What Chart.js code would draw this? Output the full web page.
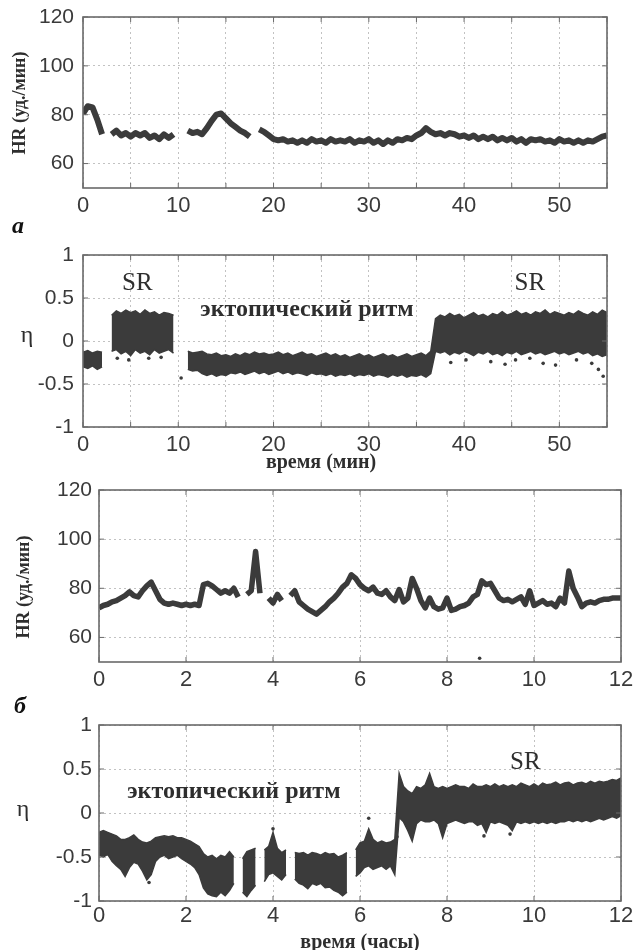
<!DOCTYPE html>
<html>
<head>
<meta charset="utf-8">
<script src="https://cdn.jsdelivr.net/npm/chart.js@4.4.1/dist/chart.umd.min.js"></script>
<style>
    html, body { margin: 0; padding: 0; background: #fff; }
    #wrap { position: relative; width: 633px; height: 950px; }
    canvas { position: absolute; left: 0; }
</style>
</head>
<body>
<div id="wrap">
    <canvas id="hrMin" width="633" height="236" style="top:0"></canvas>
    <canvas id="etaMin" width="633" height="239" style="top:236px"></canvas>
    <canvas id="hrHour" width="633" height="220" style="top:475px"></canvas>
    <canvas id="etaHour" width="633" height="255" style="top:695px"></canvas>
</div>
<script>
// --- данные (шаг по времени: 0.5 мин и 0.1 ч) ---
const STEP_MIN = 0.5;
const STEP_HOUR = 0.1;

// а) ЧСС, минуты 0..55
const hrMinutes = [
    80.5, 83.5, 83, 78, 72, null, 72, 73.5, 71.5, 72.5,
    71, 72.5, 71.5, 72.5, 70.5, 71.5, 70, 72, 70.5, 72,
    null, null, 73.5, 72.5, 73, 72, 74.5, 77.5, 80, 80.5,
    78.5, 76.5, 75, 73.5, 72.5, 71, null, 74, 73, 71.5,
    70, 69.5, 70, 69, 69.5, 68.5, 69.5, 68.5, 70, 69,
    69.5, 68.5, 70, 69, 69.5, 69, 70, 68.5, 69.5, 69,
    70, 68.5, 69.5, 68, 69.5, 68.5, 70, 69.5, 70.5, 70,
    71.5, 72.5, 74.5, 73, 72, 72.5, 71.5, 72.5, 72, 71,
    71.5, 70.5, 71.5, 70, 71, 70, 71, 69.5, 70.5, 69.5,
    70.5, 69, 70, 68.5, 70, 69.5, 70, 69, 69.5, 68.5,
    70, 69, 69.5, 68.5, 69.5, 68.5, 69.5, 69, 70, 71,
    71.5
];

// а) η, минуты 0..55 — верхняя и нижняя граница облака точек
const etaMinUpper = [
    -0.13, -0.11, -0.14, -0.12, -0.13, null, 0.3, 0.35, 0.32, 0.36,
    0.33, 0.35, 0.31, 0.36, 0.32, 0.34, 0.3, 0.33, 0.32, 0.3,
    null, null, -0.12, -0.14, -0.13, -0.12, -0.15, -0.16, -0.14, -0.17,
    -0.16, -0.18, -0.15, -0.17, -0.14, -0.16, -0.13, -0.15, -0.14, -0.16,
    -0.15, -0.13, -0.16, -0.14, -0.17, -0.15, -0.13, -0.16, -0.15, -0.18,
    -0.16, -0.14, -0.17, -0.15, -0.18, -0.16, -0.19, -0.17, -0.15, -0.18,
    -0.16, -0.19, -0.17, -0.15, -0.18, -0.16, -0.19, -0.17, -0.15, -0.18,
    -0.16, -0.14, -0.17, -0.12, 0.26, 0.3, 0.28, 0.32, 0.29, 0.31,
    0.27, 0.3, 0.33, 0.29, 0.31, 0.28, 0.32, 0.3, 0.34, 0.3,
    0.32, 0.35, 0.31, 0.33, 0.3, 0.34, 0.32, 0.36, 0.31, 0.34,
    0.32, 0.3, 0.33, 0.31, 0.35, 0.32, 0.3, 0.34, 0.31, 0.36,
    0.33
];
const etaMinLower = [
    -0.3, -0.32, -0.29, -0.33, -0.3, null, -0.12, -0.1, -0.15, -0.12,
    -0.17, -0.1, -0.14, -0.12, -0.16, -0.1, -0.14, -0.12, -0.1, -0.14,
    null, null, -0.33, -0.35, -0.34, -0.38, -0.4, -0.38, -0.41, -0.39,
    -0.4, -0.37, -0.38, -0.36, -0.39, -0.37, -0.35, -0.38, -0.36, -0.39,
    -0.37, -0.35, -0.38, -0.36, -0.39, -0.37, -0.38, -0.4, -0.37, -0.39,
    -0.38, -0.4, -0.38, -0.41, -0.39, -0.4, -0.38, -0.41, -0.39, -0.4,
    -0.38, -0.41, -0.39, -0.4, -0.42, -0.39, -0.41, -0.39, -0.42, -0.4,
    -0.41, -0.39, -0.42, -0.38, -0.12, -0.14, -0.12, -0.16, -0.13, -0.15,
    -0.12, -0.14, -0.17, -0.13, -0.15, -0.12, -0.16, -0.14, -0.17, -0.13,
    -0.15, -0.12, -0.16, -0.14, -0.12, -0.15, -0.13, -0.16, -0.14, -0.12,
    -0.15, -0.13, -0.16, -0.14, -0.12, -0.15, -0.13, -0.17, -0.15, -0.18,
    -0.16
];
const etaMinOutliers = [
    [10.3, -0.43], [3.6, -0.2], [4.8, -0.22], [6.9, -0.2], [8.2, -0.19],
    [38.6, -0.25], [40.2, -0.22], [42.8, -0.24], [44.3, -0.27], [45.4, -0.22],
    [46.9, -0.2], [48.3, -0.26], [49.6, -0.28], [51.8, -0.22], [53.4, -0.26],
    [54.1, -0.33], [54.6, -0.41]
];

// б) ЧСС, часы 0..12
const hrHours = [
    72, 73, 73.5, 74.5, 75, 76, 77, 78.5, 77, 76.5,
    79, 81, 82.5, 79, 75.5, 74, 73.5, 74, 73.5, 73,
    73.5, 73, 73.5, 73, 81.5, 82, 81, 79.5, 78, 79,
    78, 80, 76.5, null, 77.5, 79, 95, 78, null, 76,
    74, 77.5, 75, null, 77, 79, 74.5, 73, 71.5, 70.5,
    69.5, 71, 72.5, 74.5, 76, 78, 80.5, 82, 85.5, 84,
    81.5, 80, 79, 80.5, 78, 77.5, 79, 76.5, 75, 79.5,
    74.5, 76, 84, 80, 75, 72, 76, 72.5, 71.5, 72,
    76, 71, 71.5, 72.5, 73, 74, 76.5, 77.5, 83, 81.5,
    82, 79, 76, 75, 75.5, 74.5, 75.5, 76.5, 73.5, 79,
    73, 74, 75, 73.5, 74, 72.5, 76, 74, 87, 80,
    76.5, 72.5, 74, 74.5, 74, 75, 75.5, 75.5, 76, 76,
    76
];
const hrHoursOutliers = [[8.75, 51.5]];

// б) η, часы 0..12
const etaHourUpper = [
    -0.22, -0.2, -0.22, -0.24, -0.26, -0.3, -0.3, -0.28, -0.25, -0.3,
    -0.33, -0.34, -0.32, -0.28, -0.27, -0.26, -0.27, -0.26, -0.28, -0.28,
    -0.3, -0.32, -0.35, -0.38, -0.46, -0.5, -0.48, -0.52, -0.48, -0.5,
    -0.44, -0.5, null, -0.52, -0.44, -0.42, -0.4, null, -0.42, -0.38,
    -0.22, -0.4, -0.45, -0.42, null, -0.45, -0.46, -0.45, -0.48, -0.45,
    -0.46, -0.48, -0.45, -0.47, -0.46, -0.5, -0.48, -0.45, null, -0.42,
    -0.34, -0.32, -0.18, -0.3, -0.34, -0.32, -0.34, -0.33, -0.3, 0.45,
    0.3, 0.25, 0.22, 0.3, 0.28, 0.32, 0.45, 0.3, 0.28, 0.3,
    0.28, 0.3, 0.32, 0.3, 0.3, 0.28, 0.33, 0.3, 0.3, 0.32,
    0.3, 0.33, 0.3, 0.32, 0.3, 0.32, 0.3, 0.34, 0.32, 0.3,
    0.33, 0.3, 0.34, 0.32, 0.33, 0.35, 0.32, 0.34, 0.35, 0.32,
    0.34, 0.35, 0.33, 0.36, 0.34, 0.36, 0.35, 0.36, 0.38, 0.37,
    0.4
];
const etaHourLower = [
    -0.48, -0.5, -0.47, -0.55, -0.6, -0.64, -0.72, -0.62, -0.56, -0.58,
    -0.66, -0.76, -0.7, -0.55, -0.5, -0.48, -0.52, -0.5, -0.48, -0.52,
    -0.55, -0.58, -0.62, -0.7, -0.85, -0.92, -0.94, -0.95, -0.9, -0.94,
    -0.88, -0.8, null, -0.9, -0.95, -0.88, -0.82, null, -0.78, -0.7,
    -0.68, -0.72, -0.76, -0.7, null, -0.75, -0.8, -0.82, -0.86, -0.8,
    -0.82, -0.8, -0.85, -0.84, -0.88, -0.9, -0.94, -0.9, null, -0.72,
    -0.68, -0.62, -0.6, -0.64, -0.62, -0.6, -0.64, -0.6, -0.7, -0.05,
    -0.1, -0.2, -0.32, -0.12, -0.08, -0.1, -0.1, -0.08, -0.12, -0.28,
    -0.12, -0.1, -0.08, -0.1, -0.12, -0.1, -0.1, -0.14, -0.12, -0.22,
    -0.1, -0.12, -0.1, -0.12, -0.14, -0.2, -0.1, -0.12, -0.1, -0.12,
    -0.1, -0.12, -0.1, -0.12, -0.1, -0.12, -0.1, -0.1, -0.08, -0.1,
    -0.08, -0.1, -0.08, -0.1, -0.08, -0.06, -0.08, -0.06, -0.04, -0.06,
    -0.03
];
const etaHourOutliers = [
    [1.15, -0.79], [4.0, -0.18], [6.2, -0.06], [6.85, -0.27], [9.45, -0.24], [8.85, -0.26]
];

// оси
const xTicksMin = [0, 5, 10, 15, 20, 25, 30, 35, 40, 45, 50, 55];
const xLabelsMin = [0, 10, 20, 30, 40, 50];
const xTicksHour = [0, 2, 4, 6, 8, 10, 12];
const yTicksHR = [60, 80, 100, 120];
const yTicksEta = [-1, -0.5, 0, 0.5, 1];

const INK = '#3b3b3b';
const SANS = "'Liberation Sans', Arial, sans-serif";
const SERIF = "'Liberation Serif', 'Times New Roman', serif";

function toPoints(values, step) {
    return values.map((v, i) => ({ x: Math.round(i * step * 100) / 100, y: v }));
}
function pairs(list) {
    return list.map(p => ({ x: p[0], y: p[1] }));
}

function traceSet(values, step, width) {
    return { data: toPoints(values, step), borderColor: INK, borderWidth: width, pointRadius: 0,
             tension: 0, spanGaps: false, fill: false, borderJoinStyle: 'round' };
}
function bandSets(upper, lower, step) {
    return [
        { data: toPoints(upper, step), borderColor: INK, borderWidth: 1.5, pointRadius: 0, spanGaps: false, fill: false },
        { data: toPoints(lower, step), borderColor: INK, borderWidth: 1.5, pointRadius: 0, spanGaps: false,
          fill: '-1', backgroundColor: INK }
    ];
}
function dotSet(list) {
    return { data: pairs(list), showLine: false, pointRadius: 1.8, pointBackgroundColor: INK, pointBorderWidth: 0 };
}

// рамка, внутренние штрихи и подписи
const framePlugin = {
    id: 'frame',
    afterDatasetsDraw(chart) {
        const { ctx, chartArea: a, scales } = chart;
        ctx.save();
        ctx.strokeStyle = '#6a6a6a';
        ctx.lineWidth = 1;
        const seg = (x1, y1, x2, y2) => { ctx.beginPath(); ctx.moveTo(x1, y1); ctx.lineTo(x2, y2); ctx.stroke(); };
        scales.x.ticks.forEach(t => {
            const px = scales.x.getPixelForValue(t.value);
            seg(px, a.bottom, px, a.bottom - 5);
            seg(px, a.top, px, a.top + 5);
        });
        scales.y.ticks.forEach(t => {
            const py = scales.y.getPixelForValue(t.value);
            seg(a.left, py, a.left + 5, py);
            seg(a.right, py, a.right - 5, py);
        });
        ctx.lineWidth = 1.6;
        ctx.strokeRect(a.left, a.top, a.right - a.left, a.bottom - a.top);
        ctx.restore();
    },
    afterDraw(chart, args, opts) {
        const ctx = chart.ctx;
        (opts.texts || []).forEach(t => {
            let x = t.x, y = t.y;
            if (t.data) {
                x = chart.scales.x.getPixelForValue(t.x);
                y = chart.scales.y.getPixelForValue(t.y);
            }
            ctx.save();
            ctx.translate(x, y);
            if (t.rot) ctx.rotate(t.rot);
            ctx.font = t.font;
            ctx.fillStyle = t.color || '#2e2e2e';
            ctx.textAlign = t.align || 'center';
            ctx.textBaseline = t.base || 'middle';
            ctx.fillText(t.text, 0, 0);
            ctx.restore();
        });
    }
};

function makePanel(id, box, datasets, xTicks, xLabels, xMax, yTicks, yMin, yMax, texts) {
    const canvas = document.getElementById(id);
    return new Chart(canvas, {
        type: 'line',
        plugins: [framePlugin],
        data: { datasets: datasets },
        options: {
            responsive: false,
            animation: false,
            layout: { padding: { left: 0, right: 633 - box.right, top: box.top, bottom: 0 } },
            plugins: {
                legend: { display: false },
                tooltip: { enabled: false },
                frame: { texts: texts }
            },
            scales: {
                x: {
                    type: 'linear', min: 0, max: xMax,
                    afterBuildTicks: s => { s.ticks = xTicks.map(v => ({ value: v })); },
                    afterFit: s => { s.height = box.xh; s.paddingLeft = 0; s.paddingRight = 0; },
                    ticks: {
                        autoSkip: false, maxRotation: 0, padding: box.xPad, color: '#3a3a3a',
                        font: { family: SANS, size: 22 },
                        callback: v => xLabels.includes(v) ? String(v) : ''
                    },
                    grid: { color: '#c2c2c2', lineWidth: 1, drawTicks: false },
                    border: { display: false, dash: [2, 3] }
                },
                y: {
                    min: yMin, max: yMax,
                    afterBuildTicks: s => { s.ticks = yTicks.map(v => ({ value: v })); },
                    afterFit: s => { s.width = box.left; s.paddingTop = 0; s.paddingBottom = 0; },
                    ticks: {
                        padding: box.yPad, color: '#3a3a3a',
                        font: { family: SANS, size: 21 },
                        callback: v => String(v)
                    },
                    grid: { color: '#c2c2c2', lineWidth: 1, drawTicks: false },
                    border: { display: false, dash: [2, 3] }
                }
            }
        }
    });
}

const rot = -Math.PI / 2;

makePanel('hrMin', { left: 83, right: 607, top: 17, xh: 48, xPad: 5, yPad: 9 },
    [traceSet(hrMinutes, STEP_MIN, 6)],
    xTicksMin, xLabelsMin, 55, yTicksHR, 50, 120,
    [
        { text: 'HR (уд./мин)', x: 20, y: 103, rot: rot, font: 'bold 18px ' + SERIF },
        { text: 'а', x: 12, y: 233, align: 'left', base: 'alphabetic', font: 'bold italic 24px ' + SERIF, color: '#111' }
    ]);

makePanel('etaMin', { left: 83, right: 607, top: 19, xh: 48, xPad: 5, yPad: 9 },
    [...bandSets(etaMinUpper, etaMinLower, STEP_MIN), dotSet(etaMinOutliers)],
    xTicksMin, xLabelsMin, 55, yTicksEta, -1, 1,
    [
        { text: 'η', x: 27, y: 100, font: '24px ' + SERIF },
        { text: 'SR', data: true, x: 5.7, y: 0.67, font: '25px ' + SERIF },
        { text: 'SR', data: true, x: 46.9, y: 0.67, font: '25px ' + SERIF },
        { text: 'эктопический ритм', data: true, x: 23.5, y: 0.36, font: 'bold 24px ' + SERIF },
        { text: 'время (мин)', x: 321, y: 227, font: 'bold 20px ' + SERIF }
    ]);

makePanel('hrHour', { left: 99, right: 621, top: 15, xh: 33, xPad: 5, yPad: 7 },
    [traceSet(hrHours, STEP_HOUR, 5.5), dotSet(hrHoursOutliers)],
    xTicksHour, xTicksHour, 12, yTicksHR, 50, 120,
    [
        { text: 'HR (уд./мин)', x: 24, y: 112, rot: rot, font: 'bold 18px ' + SERIF }
    ]);

makePanel('etaHour', { left: 99, right: 621, top: 30, xh: 49, xPad: 2, yPad: 7 },
    [...bandSets(etaHourUpper, etaHourLower, STEP_HOUR), dotSet(etaHourOutliers)],
    xTicksHour, xTicksHour, 12, yTicksEta, -1, 1,
    [
        { text: 'б', x: 14, y: 18, align: 'left', base: 'alphabetic', font: 'bold italic 24px ' + SERIF, color: '#111' },
        { text: 'η', x: 23, y: 115, font: '24px ' + SERIF },
        { text: 'SR', data: true, x: 9.8, y: 0.58, font: '25px ' + SERIF },
        { text: 'эктопический ритм', data: true, x: 3.1, y: 0.24, font: 'bold 24px ' + SERIF },
        { text: 'время (часы)', x: 360, y: 248, font: 'bold 20px ' + SERIF }
    ]);
</script>
</body>
</html>
